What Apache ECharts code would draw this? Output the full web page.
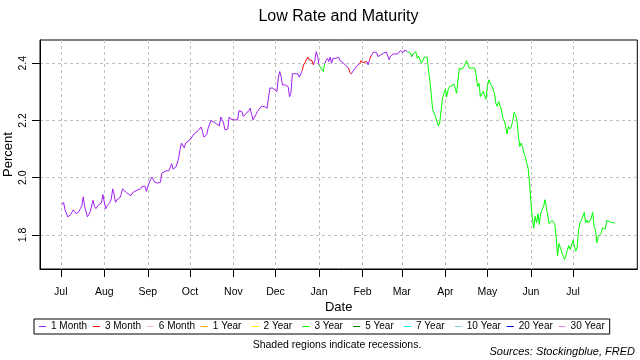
<!DOCTYPE html>
<html><head><meta charset="utf-8">
<script src="https://cdn.jsdelivr.net/npm/echarts@6/dist/echarts.min.js"></script>
<style>html,body{margin:0;padding:0;background:#fff}#c{width:640px;height:360px}</style>
</head><body><div id="c"></div>
<script>
const maturities = ['1 Month','3 Month','6 Month','1 Year','2 Year','3 Year','5 Year','7 Year','10 Year','20 Year','30 Year'];
const maturityColors = ['#A020F0','#FF0000','#FFC0CB','#FFA500','#FFFF00','#00FF00','#008B00','#00FFFF','#87CEEB','#0000FF','#EE82EE'];
const monthTicks = ['2018-07-01','2018-08-01','2018-09-01','2018-10-01','2018-11-01','2018-12-01','2019-01-01','2019-02-01','2019-03-01','2019-04-01','2019-05-01','2019-06-01','2019-07-01'];
const monthLabels = ['Jul','Aug','Sep','Oct','Nov','Dec','Jan','Feb','Mar','Apr','May','Jun','Jul'];
const yTicks = [1.8, 2.0, 2.2, 2.4];

const dates = [
'2018-07-02','2018-07-03','2018-07-04','2018-07-06','2018-07-07','2018-07-08','2018-07-10','2018-07-11','2018-07-12','2018-07-14',
'2018-07-15','2018-07-16','2018-07-17','2018-07-18','2018-07-19','2018-07-20','2018-07-21','2018-07-22','2018-07-24','2018-07-25',
'2018-07-26','2018-07-28','2018-07-30','2018-07-31','2018-08-01','2018-08-02','2018-08-03','2018-08-05','2018-08-06','2018-08-07',
'2018-08-08','2018-08-09','2018-08-10','2018-08-12','2018-08-13','2018-08-14','2018-08-15','2018-08-17','2018-08-20','2018-08-21',
'2018-08-22','2018-08-25','2018-08-27','2018-08-28','2018-08-30','2018-08-31','2018-09-01','2018-09-03','2018-09-04','2018-09-06',
'2018-09-08','2018-09-10','2018-09-11','2018-09-12','2018-09-14','2018-09-16','2018-09-18','2018-09-19','2018-09-21','2018-09-22',
'2018-09-23','2018-09-24','2018-09-25','2018-09-26','2018-09-27','2018-09-28','2018-09-29','2018-10-01','2018-10-04','2018-10-07',
'2018-10-09','2018-10-10','2018-10-11','2018-10-13','2018-10-14','2018-10-16','2018-10-17','2018-10-19','2018-10-20','2018-10-22',
'2018-10-23','2018-10-24','2018-10-25','2018-10-26','2018-10-28','2018-10-29','2018-10-30','2018-11-01','2018-11-02','2018-11-04',
'2018-11-05','2018-11-07','2018-11-08','2018-11-10','2018-11-12','2018-11-13','2018-11-14','2018-11-15','2018-11-17','2018-11-18',
'2018-11-21','2018-11-23','2018-11-25','2018-11-26','2018-11-27','2018-11-29','2018-11-30','2018-12-02','2018-12-03','2018-12-04',
'2018-12-05','2018-12-06','2018-12-08','2018-12-10','2018-12-11','2018-12-12','2018-12-13','2018-12-15','2018-12-17','2018-12-18',
'2018-12-19','2018-12-20','2018-12-21','2018-12-22','2018-12-23','2018-12-24','2018-12-25','2018-12-27','2018-12-28','2018-12-29',
'2018-12-30','2018-12-31','2019-01-01','2019-01-03','2019-01-04','2019-01-05','2019-01-06','2019-01-07','2019-01-08','2019-01-09',
'2019-01-10','2019-01-11','2019-01-13','2019-01-15','2019-01-16','2019-01-18','2019-01-19','2019-01-22','2019-01-23','2019-01-24',
'2019-01-26','2019-01-28','2019-01-30','2019-01-31','2019-02-01','2019-02-04','2019-02-05','2019-02-06','2019-02-07','2019-02-08',
'2019-02-09','2019-02-11','2019-02-12','2019-02-14','2019-02-15','2019-02-16','2019-02-18','2019-02-19','2019-02-20','2019-02-21',
'2019-02-23','2019-02-24','2019-02-26','2019-02-27','2019-02-28','2019-03-02','2019-03-03','2019-03-04','2019-03-05','2019-03-07',
'2019-03-08','2019-03-09','2019-03-11','2019-03-12','2019-03-13','2019-03-14','2019-03-15','2019-03-16','2019-03-17','2019-03-19',
'2019-03-20','2019-03-21','2019-03-22','2019-03-23','2019-03-24','2019-03-25','2019-03-26','2019-03-27','2019-03-28','2019-03-29',
'2019-03-30','2019-04-01','2019-04-02','2019-04-03','2019-04-04','2019-04-05','2019-04-06','2019-04-07','2019-04-08','2019-04-09',
'2019-04-10','2019-04-11','2019-04-13','2019-04-14','2019-04-15','2019-04-16','2019-04-17','2019-04-18','2019-04-20','2019-04-22',
'2019-04-23','2019-04-24','2019-04-25','2019-04-26','2019-04-27','2019-04-28','2019-04-29','2019-04-30','2019-05-01','2019-05-02',
'2019-05-03','2019-05-04','2019-05-05','2019-05-06','2019-05-07','2019-05-08','2019-05-09','2019-05-10','2019-05-11','2019-05-12',
'2019-05-13','2019-05-14','2019-05-15','2019-05-16','2019-05-17','2019-05-18','2019-05-19','2019-05-20','2019-05-21','2019-05-22',
'2019-05-23','2019-05-24','2019-05-25','2019-05-26','2019-05-27','2019-05-28','2019-05-29','2019-05-30','2019-05-31','2019-06-01',
'2019-06-02','2019-06-03','2019-06-04','2019-06-05','2019-06-06','2019-06-07','2019-06-08','2019-06-10','2019-06-11','2019-06-12',
'2019-06-13','2019-06-14','2019-06-15','2019-06-16','2019-06-17','2019-06-18','2019-06-19','2019-06-20','2019-06-21','2019-06-22',
'2019-06-24','2019-06-25','2019-06-26','2019-06-27','2019-06-28','2019-06-29','2019-06-30','2019-07-01','2019-07-02','2019-07-03',
'2019-07-04','2019-07-05','2019-07-06','2019-07-07','2019-07-08','2019-07-09','2019-07-10','2019-07-11','2019-07-12','2019-07-13',
'2019-07-14','2019-07-15','2019-07-16','2019-07-17','2019-07-18','2019-07-19','2019-07-20','2019-07-21','2019-07-22','2019-07-24',
'2019-07-25','2019-07-26','2019-07-28','2019-07-30','2019-07-31'
];
const lowRate = [
1.906,1.914,1.888,1.863,1.867,1.871,1.888,1.891,1.874,1.882,
1.892,1.902,1.933,1.900,1.894,1.863,1.871,1.882,1.921,1.900,
1.892,1.906,1.912,1.941,1.944,1.891,1.902,1.914,1.926,1.961,
1.941,1.914,1.923,1.929,1.941,1.961,1.961,1.947,1.937,1.947,
1.952,1.958,1.961,1.970,1.970,1.952,1.970,1.993,2.002,1.984,
1.981,1.984,2.016,2.022,2.024,2.024,2.049,2.030,2.037,2.051,
2.069,2.098,2.121,2.119,2.104,2.121,2.127,2.132,2.153,2.165,
2.177,2.161,2.142,2.150,2.173,2.200,2.202,2.191,2.185,2.181,
2.212,2.202,2.191,2.167,2.170,2.212,2.205,2.202,2.196,2.202,
2.234,2.231,2.214,2.223,2.235,2.243,2.220,2.202,2.220,2.231,
2.249,2.249,2.243,2.278,2.313,2.313,2.307,2.301,2.348,2.371,
2.353,2.324,2.324,2.318,2.283,2.295,2.363,2.363,2.363,2.351,
2.353,2.374,2.394,2.402,2.412,2.421,2.412,2.409,2.394,2.409,
2.440,2.425,2.394,2.379,2.371,2.398,2.409,2.417,2.406,2.421,
2.400,2.417,2.417,2.421,2.409,2.402,2.398,2.383,2.367,2.363,
2.377,2.391,2.398,2.409,2.402,2.406,2.394,2.412,2.425,2.432,
2.439,2.437,2.423,2.429,2.432,2.435,2.439,2.440,2.412,2.425,
2.432,2.437,2.432,2.437,2.444,2.437,2.446,2.452,2.440,2.437,
2.423,2.432,2.440,2.417,2.425,2.429,2.400,2.409,2.421,2.421,
2.377,2.339,2.289,2.237,2.228,2.214,2.196,2.181,2.191,2.235,
2.278,2.309,2.283,2.307,2.318,2.313,2.321,2.328,2.313,2.295,
2.289,2.383,2.379,2.383,2.394,2.409,2.398,2.383,2.383,2.383,
2.359,2.318,2.330,2.283,2.289,2.301,2.295,2.274,2.318,2.342,
2.330,2.321,2.309,2.295,2.260,2.249,2.266,2.260,2.237,2.208,
2.200,2.179,2.153,2.179,2.170,2.179,2.196,2.228,2.220,2.202,
2.150,2.109,2.121,2.109,2.086,2.074,2.051,2.034,1.981,1.917,
1.859,1.824,1.865,1.842,1.874,1.836,1.877,1.900,1.923,1.897,
1.867,1.839,1.845,1.851,1.846,1.839,1.791,1.728,1.770,1.755,
1.725,1.714,1.728,1.749,1.763,1.749,1.766,1.781,1.760,1.743,
1.760,1.819,1.844,1.851,1.865,1.879,1.842,1.851,1.842,1.836,
1.859,1.879,1.830,1.819,1.772,1.795,1.798,1.805,1.824,1.821,
1.851,1.851,1.844,1.842,1.842
];
// maturity with the lowest rate, from each start date onward
const lowMaturityRuns = [
['2018-07-02','1 Month'],['2018-12-21','3 Month'],['2018-12-29','1 Month'],['2019-01-03','3 Year'],
['2019-01-06','1 Month'],['2019-01-23','3 Month'],['2019-01-26','1 Month'],['2019-01-31','3 Month'],
['2019-02-05','1 Month'],['2019-02-07','3 Month'],['2019-02-08','1 Month'],['2019-03-07','3 Year'],
['2019-03-09','5 Year'],['2019-03-11','3 Year']
];

function maturityOf(d) {
  let m = lowMaturityRuns[0][1];
  for (const r of lowMaturityRuns) { if (r[0] <= d) m = r[1]; }
  return m;
}
const codes = dates.map(maturityOf);

const FONT = '"Liberation Sans", Arial, sans-serif';
const ts = s => +echarts.time.parse(s);
const t0 = ts('2018-07-01');
const DAY = 86400000;
const xMin = t0 - 14.8 * DAY;
const xMax = t0 + 410.8 * DAY;
const tickTs = monthTicks.map(ts);
const xs = dates.map(ts);

const series = maturities.map((m, k) => {
  const data = [];
  let last = -2;
  for (let i = 1; i < dates.length; i++) {
    if (codes[i] === m) {
      if (last !== i - 1) data.push([xs[i - 1], lowRate[i - 1]]);
      data.push([xs[i], lowRate[i]]);
      last = i;
    } else if (last === i - 1) {
      data.push([xs[i - 1], null]);
    }
  }
  return {
    name: m, type: 'line', data: data, showSymbol: false, symbol: 'none',
    connectNulls: false, animation: false,
    lineStyle: { width: 1, color: maturityColors[k] },
    itemStyle: { color: maturityColors[k] }
  };
});

const chart = echarts.init(document.getElementById('c'), null, { renderer: 'canvas' });
chart.setOption({
  animation: false,
  backgroundColor: '#fff',
  title: {
    text: 'Low Rate and Maturity', left: 333.5, top: 4, textAlign: 'center',
    textStyle: { fontSize: 16, fontWeight: 'normal', color: '#000', fontFamily: FONT }
  },
  graphic: [
    { type: 'text', x: 337, y: 345, style: { text: 'Shaded regions indicate recessions.', align: 'center', verticalAlign: 'middle', fill: '#000', font: '10.5px ' + FONT } },
    { type: 'text', x: 635, y: 351.5, style: { text: 'Sources: Stockingblue, FRED', align: 'right', verticalAlign: 'middle', fill: '#000', font: 'italic 11px ' + FONT } }
  ],
  legend: {
    data: maturities, left: 34, top: 319, orient: 'horizontal', icon: 'rect',
    itemWidth: 7, itemHeight: 1, itemGap: 5.8, padding: [2, 5, 2, 5],
    borderColor: '#000', borderWidth: 1, selectedMode: false,
    textStyle: { fontSize: 10, color: '#000', fontFamily: FONT, width: 33, lineHeight: 11 }
  },
  grid: { left: 40, top: 40, width: 597.3, height: 229, show: true, borderColor: '#000', borderWidth: 1,
    containLabel: false, outerBoundsMode: 'none' },
  xAxis: {
    type: 'value', min: xMin, max: xMax,
    name: 'Date', nameLocation: 'middle', nameGap: 32, nameMoveOverlap: false,
    nameTextStyle: { fontSize: 13, color: '#000', fontFamily: FONT },
    axisLine: { show: true, lineStyle: { color: '#000', width: 1 } },
    axisTick: { show: true, length: 8, inside: false, customValues: tickTs, lineStyle: { color: '#000' } },
    axisLabel: { customValues: tickTs, margin: 18, fontSize: 10.5, color: '#000', fontFamily: FONT,
      formatter: (v, i) => { const j = tickTs.indexOf(+v); return monthLabels[j >= 0 ? j : i]; } },
    splitLine: { show: true, lineStyle: { color: '#C0C0C0', type: [3, 3], width: 1 } }
  },
  yAxis: {
    type: 'value', min: 1.681, max: 2.481,
    name: 'Percent', nameLocation: 'middle', nameGap: 25, nameRotate: 90, nameMoveOverlap: false,
    nameTextStyle: { fontSize: 13, color: '#000', fontFamily: FONT },
    axisLine: { show: true, lineStyle: { color: '#000', width: 1 } },
    axisTick: { show: true, length: 8, inside: false, customValues: yTicks, lineStyle: { color: '#000' } },
    axisLabel: { customValues: yTicks, rotate: 90, margin: 11, fontSize: 10.5, color: '#000', fontFamily: FONT,
      formatter: v => Number(v).toFixed(1) },
    splitLine: { show: true, lineStyle: { color: '#C0C0C0', type: [3, 3], width: 1 } }
  },
  series: series
});
</script></body></html>
